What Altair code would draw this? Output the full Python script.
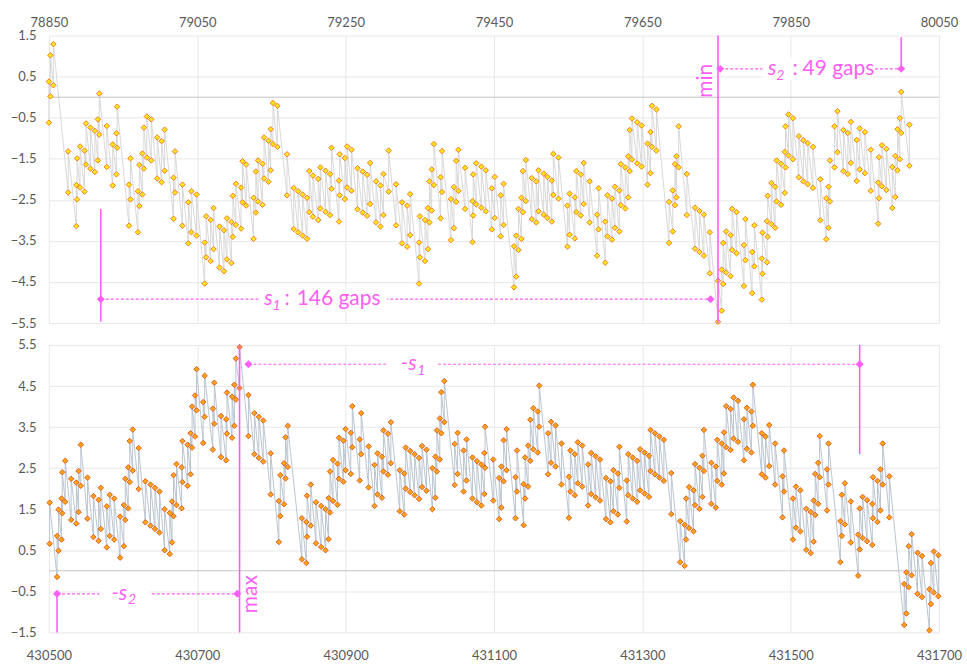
import altair as alt
import pandas as pd

# ---------------- upper panel: jump positions and the values just before / after each jump
top_x = [
    78850, 78852, 78856, 78876, 78887, 78888, 78892, 78898, 78900, 78906,
    78912, 78916, 78918, 78928, 78936, 78941, 78942, 78958, 78960, 78970,
    78972, 78976, 78978, 78982, 78988, 78996, 79002, 79006, 79018, 79020,
    79030, 79038, 79042, 79049, 79060, 79062, 79068, 79072, 79080, 79086,
    79090, 79096, 79098, 79102, 79109, 79111, 79116, 79126, 79129, 79132,
    79138, 79140, 79146, 79149, 79152, 79158, 79171, 79180, 79186, 79192,
    79198, 79201, 79206, 79213, 79216, 79223, 79229, 79231, 79241, 79242,
    79249, 79252, 79258, 79266, 79273, 79279, 79283, 79291, 79297, 79301,
    79308, 79318, 79326, 79333, 79337, 79349, 79350, 79357, 79361, 79363,
    79366, 79369, 79378, 79380, 79392, 79396, 79399, 79402, 79411, 79421,
    79422, 79426, 79433, 79439, 79447, 79451, 79459, 79463, 79477, 79480,
    79483, 79487, 79489, 79493, 79501, 79507, 79510, 79517, 79522, 79528,
    79530, 79537, 79549, 79552, 79559, 79561, 79567, 79571, 79579, 79589,
    79591, 79600, 79603, 79609, 79613, 79619, 79621, 79627, 79631, 79633,
    79636, 79643, 79649, 79657, 79661, 79663, 79669, 79686, 79691, 79694,
    79696, 79699, 79710, 79721, 79727, 79733, 79741, 79752, 79757, 79759,
    79763, 79769, 79771, 79777, 79787, 79789, 79798, 79801, 79811, 79812,
    79818, 79819, 79824, 79829, 79831, 79837, 79842, 79843, 79847, 79853,
    79861, 79867, 79873, 79880, 79890, 79898, 79901, 79903, 79909, 79913,
    79921, 79927, 79931, 79939, 79943, 79950, 79958, 79968, 79969, 79973,
    79979, 79987, 79991, 79994, 79997, 79999, 80010,
]
top_lo = [
    -0.62, 0.02, 0.29, -2.32, -3.14, -2.49, -2.20, -2.30, -1.64, -1.74,
    -1.82, -1.54, -0.91, -1.70, -2.15, -1.88, -1.23, -3.13, -2.49, -3.29,
    -2.65, -2.37, -1.74, -1.47, -1.54, -1.98, -2.07, -1.79, -2.96, -2.32,
    -3.13, -3.56, -3.29, -3.37, -4.54, -3.90, -3.99, -3.70, -4.15, -4.24,
    -3.95, -4.04, -3.40, -3.11, -3.20, -2.56, -2.64, -3.45, -2.81, -2.54,
    -2.62, -1.98, -2.06, -1.78, -1.14, -1.21, -2.39, -3.21, -3.29, -3.37,
    -3.45, -2.80, -2.91, -2.99, -2.71, -2.79, -2.87, -2.23, -3.03, -2.39,
    -2.48, -2.20, -2.28, -2.73, -2.81, -2.89, -2.60, -3.05, -3.15, -2.87,
    -2.30, -3.12, -3.56, -3.64, -3.36, -4.54, -3.90, -3.99, -3.70, -3.05,
    -2.76, -2.14, -2.95, -2.31, -3.48, -3.19, -2.55, -2.28, -2.72, -3.53,
    -2.88, -2.61, -2.69, -2.78, -3.22, -2.94, -3.39, -3.11, -4.63, -4.37,
    -3.72, -3.45, -2.80, -2.53, -2.97, -3.05, -2.78, -2.86, -2.94, -3.03,
    -2.38, -2.47, -3.64, -3.35, -3.44, -2.80, -2.88, -2.60, -3.05, -3.86,
    -3.22, -4.03, -3.39, -3.47, -3.18, -3.27, -2.63, -2.71, -2.44, -1.80,
    -1.52, -1.61, -1.69, -2.13, -1.85, -1.21, -1.30, -3.55, -3.27, -2.63,
    -2.44, -1.71, -2.87, -3.69, -3.77, -3.86, -4.29, -5.47, -5.20, -4.55,
    -4.27, -4.36, -3.72, -3.80, -4.60, -3.97, -4.77, -4.12, -4.93, -4.30,
    -4.02, -3.40, -3.09, -3.18, -2.54, -2.62, -2.33, -1.71, -1.42, -1.51,
    -1.95, -2.05, -2.12, -2.21, -3.00, -3.46, -3.18, -2.54, -1.71, -1.34,
    -1.80, -1.87, -1.60, -2.04, -1.76, -1.85, -2.28, -3.08, -2.46, -2.17,
    -2.26, -2.70, -2.43, -1.78, -1.51, -0.87, -1.67,
]
top_hi = [
    0.38, 1.02, 1.29, -1.32, -2.14, -1.49, -1.20, -1.30, -0.64, -0.74,
    -0.82, -0.54, 0.09, -0.70, -1.15, -0.88, -0.23, -2.13, -1.49, -2.29,
    -1.65, -1.37, -0.74, -0.47, -0.54, -0.98, -1.07, -0.79, -1.96, -1.32,
    -2.13, -2.56, -2.29, -2.37, -3.54, -2.90, -2.99, -2.70, -3.15, -3.24,
    -2.95, -3.04, -2.40, -2.11, -2.20, -1.56, -1.64, -2.45, -1.81, -1.54,
    -1.62, -0.98, -1.06, -0.78, -0.14, -0.21, -1.39, -2.21, -2.29, -2.37,
    -2.45, -1.80, -1.91, -1.99, -1.71, -1.79, -1.87, -1.23, -2.03, -1.39,
    -1.48, -1.20, -1.28, -1.73, -1.81, -1.89, -1.60, -2.05, -2.15, -1.87,
    -1.30, -2.12, -2.56, -2.64, -2.36, -3.54, -2.90, -2.99, -2.70, -2.05,
    -1.76, -1.14, -1.95, -1.31, -2.48, -2.19, -1.55, -1.28, -1.72, -2.53,
    -1.88, -1.61, -1.69, -1.78, -2.22, -1.94, -2.39, -2.11, -3.63, -3.37,
    -2.72, -2.45, -1.80, -1.53, -1.97, -2.05, -1.78, -1.86, -1.94, -2.03,
    -1.38, -1.47, -2.64, -2.35, -2.44, -1.80, -1.88, -1.60, -2.05, -2.86,
    -2.22, -3.03, -2.39, -2.47, -2.18, -2.27, -1.63, -1.71, -1.44, -0.80,
    -0.52, -0.61, -0.69, -1.13, -0.85, -0.21, -0.30, -2.55, -2.27, -1.63,
    -1.44, -0.71, -1.87, -2.69, -2.77, -2.86, -3.29, -4.47, -4.20, -3.55,
    -3.27, -3.36, -2.72, -2.80, -3.60, -2.97, -3.77, -3.12, -3.93, -3.30,
    -3.02, -2.40, -2.09, -2.18, -1.54, -1.62, -1.33, -0.71, -0.42, -0.51,
    -0.95, -1.05, -1.12, -1.21, -2.00, -2.46, -2.18, -1.54, -0.71, -0.34,
    -0.80, -0.87, -0.60, -1.04, -0.76, -0.85, -1.28, -2.08, -1.46, -1.17,
    -1.26, -1.70, -1.43, -0.78, -0.51, 0.13, -0.67,
]

# ---------------- lower panel
bot_x = [
    430501, 430511, 430513, 430517, 430518, 430522, 430530, 430537, 430540, 430543,
    430552, 430560, 430567, 430570, 430578, 430582, 430588, 430596, 430601, 430603,
    430607, 430609, 430613, 430621, 430630, 430637, 430643, 430649, 430656, 430663,
    430666, 430668, 430672, 430679, 430680, 430687, 430691, 430693, 430697, 430699,
    430708, 430710, 430721, 430723, 430732, 430739, 430740, 430747, 430750, 430752,
    430757, 430769, 430777, 430783, 430789, 430799, 430810, 430812, 430817, 430819,
    430822, 430841, 430847, 430848, 430853, 430860, 430867, 430873, 430877, 430879,
    430883, 430889, 430891, 430897, 430900, 430907, 430909, 430919, 430921, 430931,
    430939, 430943, 430949, 430951, 430957, 430961, 430973, 430979, 430981, 430987,
    430993, 430999, 431003, 431009, 431017, 431021, 431023, 431027, 431029, 431033,
    431047, 431051, 431059, 431063, 431071, 431077, 431083, 431087, 431088, 431099,
    431107, 431110, 431113, 431117, 431129, 431131, 431140, 431142, 431146, 431149,
    431153, 431159, 431161, 431173, 431177, 431183, 431191, 431201, 431203, 431209,
    431213, 431219, 431227, 431231, 431237, 431243, 431251, 431257, 431261, 431267,
    431269, 431279, 431281, 431287, 431293, 431297, 431303, 431309, 431311, 431317,
    431323, 431329, 431339, 431351, 431357, 431359, 431363, 431369, 431371, 431377,
    431381, 431383, 431393, 431399, 431401, 431407, 431410, 431413, 431419, 431423,
    431429, 431437, 431441, 431447, 431449, 431461, 431466, 431471, 431479, 431489,
    431491, 431503, 431507, 431513, 431521, 431527, 431531, 431533, 431537, 431539,
    431549, 431551, 431567, 431569, 431573, 431581, 431591, 431593, 431597, 431603,
    431610, 431611, 431617, 431621, 431624, 431633, 431653, 431656, 431659, 431663,
    431671, 431677, 431687, 431689, 431693, 431699,
]
bot_lo = [
    0.66, -0.15, 0.49, 0.76, 1.40, 1.68, 1.24, 1.15, 1.43, 2.07,
    1.27, 0.82, 0.73, 1.02, 0.57, 0.85, 0.76, 0.32, 0.60, 1.24,
    1.52, 2.16, 2.44, 1.99, 1.18, 1.10, 1.02, 0.93, 0.50, 0.41,
    0.69, 1.33, 1.60, 1.52, 2.16, 2.07, 2.35, 3.00, 3.27, 3.91,
    3.11, 3.75, 2.95, 3.58, 2.77, 2.69, 3.34, 3.24, 3.53, 4.17,
    4.45, 3.28, 2.84, 2.75, 2.66, 1.86, 0.70, 1.33, 1.62, 2.25,
    2.53, 0.28, 0.19, 0.83, 1.10, 0.67, 0.58, 0.50, 0.77, 1.42,
    1.70, 1.61, 2.24, 2.17, 2.45, 2.36, 3.01, 2.20, 2.84, 2.03,
    1.58, 1.86, 1.78, 2.42, 2.34, 2.62, 1.45, 1.37, 2.00, 1.92,
    1.84, 1.75, 2.04, 1.95, 1.50, 1.78, 2.42, 2.71, 3.35, 3.62,
    2.09, 2.36, 1.93, 2.20, 1.76, 1.67, 1.59, 1.87, 2.51, 1.71,
    1.26, 1.54, 2.18, 2.45, 1.28, 1.93, 1.11, 1.76, 2.05, 2.68,
    2.96, 2.88, 3.51, 2.35, 2.63, 2.54, 2.10, 1.29, 1.93, 1.84,
    2.13, 2.05, 1.59, 1.87, 1.79, 1.71, 1.26, 1.18, 1.45, 1.37,
    2.02, 1.20, 1.84, 1.76, 1.68, 1.96, 1.88, 1.80, 2.43, 2.35,
    2.27, 2.19, 1.38, 0.21, 0.12, 0.76, 1.04, 0.96, 1.60, 1.51,
    1.80, 2.43, 1.63, 1.54, 2.19, 2.10, 2.37, 3.01, 2.94, 3.22,
    3.14, 2.69, 2.97, 2.88, 3.53, 2.35, 2.27, 2.55, 2.10, 1.30,
    1.93, 0.76, 1.05, 0.96, 0.51, 0.43, 0.71, 1.36, 1.63, 2.28,
    1.47, 2.10, 0.21, 0.85, 1.13, 0.69, -0.12, 0.52, 0.80, 0.72,
    0.63, 1.28, 1.19, 1.47, 2.10, 1.30, -1.32, -1.04, -0.40, -0.11,
    -0.56, -0.64, -1.45, -0.81, -0.53, -0.62,
]
bot_hi = [
    1.66, 0.85, 1.49, 1.76, 2.40, 2.68, 2.24, 2.15, 2.43, 3.07,
    2.27, 1.82, 1.73, 2.02, 1.57, 1.85, 1.76, 1.32, 1.60, 2.24,
    2.52, 3.16, 3.44, 2.99, 2.18, 2.10, 2.02, 1.93, 1.50, 1.41,
    1.69, 2.33, 2.60, 2.52, 3.16, 3.07, 3.35, 4.00, 4.27, 4.91,
    4.11, 4.75, 3.95, 4.58, 3.77, 3.69, 4.34, 4.24, 4.53, 5.17,
    5.45, 4.28, 3.84, 3.75, 3.66, 2.86, 1.70, 2.33, 2.62, 3.25,
    3.53, 1.28, 1.19, 1.83, 2.10, 1.67, 1.58, 1.50, 1.77, 2.42,
    2.70, 2.61, 3.24, 3.17, 3.45, 3.36, 4.01, 3.20, 3.84, 3.03,
    2.58, 2.86, 2.78, 3.42, 3.34, 3.62, 2.45, 2.37, 3.00, 2.92,
    2.84, 2.75, 3.04, 2.95, 2.50, 2.78, 3.42, 3.71, 4.35, 4.62,
    3.09, 3.36, 2.93, 3.20, 2.76, 2.67, 2.59, 2.87, 3.51, 2.71,
    2.26, 2.54, 3.18, 3.45, 2.28, 2.93, 2.11, 2.76, 3.05, 3.68,
    3.96, 3.88, 4.51, 3.35, 3.63, 3.54, 3.10, 2.29, 2.93, 2.84,
    3.13, 3.05, 2.59, 2.87, 2.79, 2.71, 2.26, 2.18, 2.45, 2.37,
    3.02, 2.20, 2.84, 2.76, 2.68, 2.96, 2.88, 2.80, 3.43, 3.35,
    3.27, 3.19, 2.38, 1.21, 1.12, 1.76, 2.04, 1.96, 2.60, 2.51,
    2.80, 3.43, 2.63, 2.54, 3.19, 3.10, 3.37, 4.01, 3.94, 4.22,
    4.14, 3.69, 3.97, 3.88, 4.53, 3.35, 3.27, 3.55, 3.10, 2.30,
    2.93, 1.76, 2.05, 1.96, 1.51, 1.43, 1.71, 2.36, 2.63, 3.28,
    2.47, 3.10, 1.21, 1.85, 2.13, 1.69, 0.88, 1.52, 1.80, 1.72,
    1.63, 2.28, 2.19, 2.47, 3.10, 2.30, -0.32, -0.04, 0.60, 0.89,
    0.44, 0.36, -0.45, 0.19, 0.47, 0.38,
]

assert len(top_x) == len(top_lo) == len(top_hi), (len(top_x), len(top_lo), len(top_hi))
assert len(bot_x) == len(bot_lo) == len(bot_hi), (len(bot_x), len(bot_lo), len(bot_hi))

top_xticks = [78850, 79050, 79250, 79450, 79650, 79850, 80050]
top_yticks = [1.5, 0.5, -0.5, -1.5, -2.5, -3.5, -4.5, -5.5]
bot_xticks = [430500, 430700, 430900, 431100, 431300, 431500, 431700]
bot_yticks = [5.5, 4.5, 3.5, 2.5, 1.5, 0.5, -0.5, -1.5]

PINK = "#FF5EF4"
FONT = "Lato"
W, H = 892, 288


def path_frame(xs, lo, hi):
    """Each jump contributes the value before it and the value after it."""
    rows, k = [], 0
    for x, a, b in zip(xs, lo, hi):
        rows.append({"x": x, "y": a, "k": k})
        rows.append({"x": x, "y": b, "k": k + 1})
        k += 2
    return pd.DataFrame(rows)


def panel(df, xdom, ydom, xticks, yticks, xorient, line_color, fill, stroke, notes):
    xs = alt.Scale(domain=xdom, nice=False, zero=False)
    ys = alt.Scale(domain=ydom, nice=False, zero=False)
    xax = alt.Axis(orient=xorient, values=xticks, format="d", grid=True, ticks=False,
                   domain=False, labelPadding=6 if xorient == "top" else 17,
                   labelFlush=False, labelOverlap=False, title=None)
    yax = alt.Axis(values=yticks, format=".1f", grid=True, ticks=False, domain=False,
                   labelPadding=13, title=None)

    def X(f="x"):
        return alt.X(f"{f}:Q", scale=xs, axis=xax)

    def Y(f="y"):
        return alt.Y(f"{f}:Q", scale=ys, axis=yax)

    base = alt.Chart(df)
    line = base.mark_line(color=line_color, strokeWidth=0.9).encode(x=X(), y=Y(), order="k:Q")
    zero = alt.Chart(pd.DataFrame({"y": [0]})).mark_rule(color="#c4c4c4", strokeWidth=1).encode(y=Y())
    pts = base.mark_point(shape="diamond", filled=True, fill=fill, stroke=stroke,
                          strokeWidth=0.9, size=30, opacity=1).encode(x=X(), y=Y())

    layers = [line, zero, pts]
    vr = pd.DataFrame(notes["vrules"], columns=["x", "y", "y2", "w"])
    layers.append(alt.Chart(vr).mark_rule(color=PINK).encode(
        x=X(), y=Y(), y2="y2:Q", strokeWidth=alt.StrokeWidth("w:Q", scale=None)))
    hr = pd.DataFrame(notes["dashes"], columns=["x", "x2", "y"])
    layers.append(alt.Chart(hr).mark_rule(color=PINK, strokeDash=[3, 2], strokeWidth=1.2).encode(
        x=X(), x2="x2:Q", y=Y()))
    bx = pd.DataFrame(notes["boxes"], columns=["x", "x2", "y", "y2"])
    layers.append(alt.Chart(bx).mark_rect(color="white").encode(x=X(), x2="x2:Q", y=Y(), y2="y2:Q"))
    mk = pd.DataFrame(notes["marks"], columns=["x", "y"])
    layers.append(alt.Chart(mk).mark_point(shape="diamond", filled=True, color=PINK, size=64,
                                           opacity=1).encode(x=X(), y=Y()))
    for style, rows in notes["texts"].items():
        t = pd.DataFrame(rows, columns=["x", "y", "t"])
        kw = dict(color=PINK, font=FONT, baseline="middle")
        if style == "italic":
            kw.update(fontSize=21, fontStyle="italic", align="center")
        elif style == "sub":
            kw.update(fontSize=14, fontStyle="italic", align="center")
        elif style == "colon":
            kw.update(fontSize=21, align="center")
        elif style == "plain":
            kw.update(fontSize=21, align="left")
        elif style == "rot":
            kw.update(fontSize=21, align="center", angle=270)
        layers.append(alt.Chart(t).mark_text(**kw).encode(x=X(), y=Y(), text="t:N"))

    return alt.layer(*layers).properties(width=W, height=H)


top_notes = {
    "vrules": [(78920, -2.72, -5.46, 1.6), (79752, 1.5, -5.5, 1.6), (79999, 0.69, 1.46, 1.6)],
    "dashes": [(78920, 79742, -4.92), (79755, 79999, 0.69)],
    "boxes": [(79133, 79306, -4.66, -5.22), (79812, 79961, 0.42, 0.96)],
    "marks": [(78920, -4.92), (79742, -4.92), (79755, 0.69), (79999, 0.69)],
    "texts": {
        "italic": [(79146, -4.92, "s"), (79825, 0.69, "s")],
        "sub": [(79157, -5.08, "1"), (79836, 0.52, "2")],
        "colon": [(79171, -4.92, ":"), (79856, 0.69, ":")],
        "plain": [(79184, -4.92, "146 gaps"), (79866, 0.69, "49 gaps")],
        "rot": [(79736, 0.40, "min")],
    },
}
bot_notes = {
    "vrules": [(430511, -0.56, -1.5, 1.6), (430757, 5.5, -1.5, 1.6), (431593, 5.5, 2.84, 1.6)],
    "dashes": [(430511, 430754, -0.56), (430769, 431593, 5.03)],
    "boxes": [(430568, 430636, -0.33, -0.80), (430955, 431022, 4.80, 5.26)],
    "marks": [(430511, -0.56), (430754, -0.56), (430769, 5.03), (431593, 5.03)],
    "texts": {
        "italic": [(430595, -0.56, "-s"), (430985, 5.03, "-s")],
        "sub": [(430612, -0.72, "2"), (431002, 4.87, "1")],
        "rot": [(430773, -0.57, "max")],
    },
}

top = panel(path_frame(top_x, top_lo, top_hi), [78850, 80050], [-5.5, 1.5],
            top_xticks, top_yticks, "top", "#d4d4d4", "#FFE81A", "#F07020", top_notes)
bottom = panel(path_frame(bot_x, bot_lo, bot_hi), [430500, 431700], [-1.5, 5.5],
               bot_xticks, bot_yticks, "bottom", "#b3bfcc", "#FFA516", "#D9541E", bot_notes)

chart = (
    alt.vconcat(top, bottom, spacing=22, bounds="flush")
    .properties(padding={"left": 10, "top": 16, "right": 5, "bottom": 0})
    .configure_view(stroke=None)
    .configure_axis(labelFont=FONT, labelFontSize=13, labelColor="#595959",
                    gridColor="#e8e8e8", gridWidth=1)
)

chart.save("out.html", embed_options={"renderer": "svg", "actions": False})
